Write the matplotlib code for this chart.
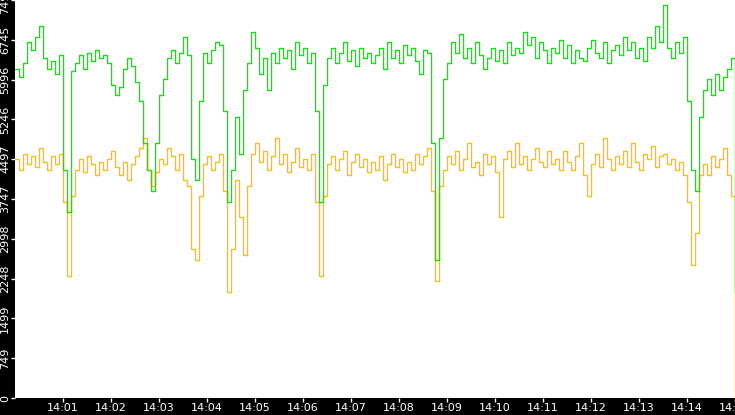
import matplotlib
matplotlib.use("Agg")
import matplotlib.pyplot as plt
import numpy as np

green = [6200,6050,6300,6700,6550,6800,7000,6400,6200,6350,6100,6450,4300,3500,6150,6300,6450,6200,6500,6350,
         6550,6400,6450,6300,5900,5700,5850,6200,6400,6250,5950,5600,4800,4300,3900,4800,5700,6000,6400,6550,
         6300,6500,6800,6450,4500,4100,5600,6500,6300,6550,6700,6650,5400,3700,4300,5300,4600,5800,6300,6900,
         6600,6100,6400,5800,6500,6300,6600,6400,6550,6200,6700,6450,6600,6300,6500,5400,3700,5900,6400,6600,
         6300,6500,6700,6350,6550,6250,6600,6400,6500,6300,6450,6600,6200,6700,6400,6550,6300,6650,6450,6600,
         6350,6100,6550,6500,4800,2600,4900,6000,6300,6700,6500,6850,6400,6600,6300,6700,6450,6200,6400,6600,
         6350,6550,6300,6700,6450,6600,6500,6900,6650,6800,6400,6700,6550,6300,6600,6500,6750,6400,6650,6300,
         6550,6400,6350,6600,6750,6500,6400,6700,6300,6550,6650,6450,6800,6550,6700,6400,6600,6350,6800,6600,
         7000,6700,7400,6600,6400,6700,6500,6800,5600,4300,3900,5300,5800,6000,5700,6100,5800,6050,6200,6400,
         2000]
yellow = [4500,4300,4600,4400,4550,4350,4700,4450,4300,4550,4400,4600,3700,2300,3800,4300,4500,4250,4550,4400,
          4200,4450,4300,4500,4650,4350,4200,4450,4100,4400,4550,4700,4900,4300,4000,4250,4500,4400,4700,4550,
          4300,4600,4100,4000,2800,2600,3800,4400,4550,4300,4450,4600,3900,2000,2800,4100,3400,2700,4000,4600,
          4800,4450,4650,4300,4550,4900,4400,4600,4250,4450,4700,4350,4500,4300,4600,3700,2300,3800,4400,4550,
          4300,4500,4650,4200,4450,4600,4350,4500,4250,4450,4300,4550,4100,4400,4600,4350,4500,4250,4450,4300,
          4600,4400,4550,4700,3900,2200,4000,4300,4550,4400,4650,4300,4500,4800,4350,4450,4200,4600,4400,4550,
          4250,3400,4500,4650,4350,4800,4400,4550,4300,4500,4700,4450,4350,4650,4400,4500,4300,4650,4450,4300,
          4550,4800,4200,3800,4400,4600,4350,4900,4500,4300,4550,4400,4650,4350,4800,4450,4300,4600,4500,4750,
          4350,4550,4600,4400,4500,4300,4450,4200,3700,2500,3100,4200,4400,4200,4550,4350,4500,4700,4200,3800,
          0]
y_ticks = [0, 749, 1499, 2248, 2998, 3747, 4497, 5246, 5996, 6745, 7495]
x_tick_labels = ["14:%02d" % m for m in range(1, 16)]
step_sec = 5

fig = plt.figure(figsize=(7.35, 4.15), dpi=100, facecolor="black")
ax = fig.add_axes([15/735, 17/415, 720/735, 398/415])
ax.set_facecolor("white")

tg = np.arange(len(green)) * step_sec / 60.0
ty = np.arange(len(yellow)) * step_sec / 60.0
ax.plot(ty, yellow, color="#ffc000", lw=1, drawstyle="steps-post")
ax.plot(tg, green, color="#00ee00", lw=1, drawstyle="steps-post")

ax.set_xlim(0, 15)
ax.set_ylim(0, 7495)
ax.set_yticks(y_ticks)
ax.set_yticklabels([str(v) for v in y_ticks], rotation=90, va="center")
ax.set_xticks(range(1, 16))
ax.set_xticklabels(x_tick_labels)
ax.tick_params(colors="white", labelsize=8, length=3, width=1, pad=0.5)
for s in ax.spines.values():
    s.set_visible(False)

fig.savefig("out.png", dpi=100, facecolor="black")
